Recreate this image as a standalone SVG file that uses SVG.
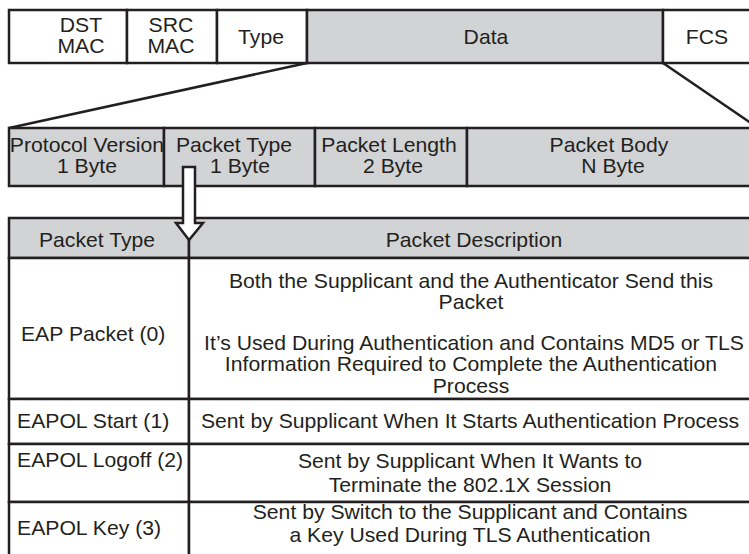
<svg xmlns="http://www.w3.org/2000/svg" width="749" height="554" viewBox="0 0 749 554">
<style>
.b{stroke:#231f20;stroke-width:2.5;}
.w{fill:#fff;}
.g{fill:#d1d3d4;}
text{font-family:"Liberation Sans",Arial,sans-serif;font-size:20px;fill:#231f20;transform-box:fill-box;transform-origin:center;transform:scaleX(1.06);}
.c{text-anchor:middle;}
.l{transform-origin:0% 50%;}
</style>
<rect width="749" height="554" fill="#fff"/>
<g id="frame">
<rect class="b w" x="9" y="10" width="118" height="53"/>
<rect class="b w" x="127" y="10" width="90" height="53"/>
<rect class="b w" x="217" y="10" width="90" height="53"/>
<rect class="b g" x="307" y="10" width="356" height="53"/>
<rect class="b w" x="663" y="10" width="90" height="53"/>
<text class="c" x="81" y="32">DST</text><text class="c" x="81" y="53">MAC</text>
<text class="c" x="171" y="32">SRC</text><text class="c" x="171" y="53">MAC</text>
<text class="c" x="261" y="44">Type</text>
<text class="c" x="486" y="44">Data</text>
<text class="c" x="707" y="44">FCS</text>
</g>
<g id="connectors">
<line class="b" x1="307" y1="63" x2="9" y2="128"/>
<line class="b" x1="663" y1="63" x2="758" y2="128"/>
</g>
<g id="eapol">
<rect class="b g" x="9" y="128" width="155" height="58"/>
<rect class="b g" x="164" y="128" width="151" height="58"/>
<rect class="b g" x="315" y="128" width="152" height="58"/>
<rect class="b g" x="467" y="128" width="290" height="58"/>
<text class="c" x="87" y="152">Protocol Version</text><text class="c" x="87" y="173">1 Byte</text>
<text class="c" x="234" y="152">Packet Type</text><text class="c" x="240" y="173">1 Byte</text>
<text class="c" x="389" y="152">Packet Length</text><text class="c" x="393" y="173">2 Byte</text>
<text class="c" x="609" y="152">Packet Body</text><text class="c" x="613" y="173">N Byte</text>
</g>
<g id="table">
<rect class="b g" x="9" y="218" width="180" height="40"/>
<rect class="b g" x="189" y="218" width="568" height="40"/>
<text class="c" x="97" y="247">Packet Type</text>
<text class="c" x="474" y="247">Packet Description</text>
<rect class="b w" x="9" y="258" width="180" height="141"/>
<rect class="b w" x="189" y="258" width="568" height="141"/>
<text class="l" x="21" y="341">EAP Packet (0)</text>
<text class="c" x="471" y="288">Both the Supplicant and the Authenticator Send this</text>
<text class="c" x="471" y="309">Packet</text>
<text class="c" x="474" y="350">It’s Used During Authentication and Contains MD5 or TLS</text>
<text class="c" x="471" y="371">Information Required to Complete the Authentication</text>
<text class="c" x="471" y="393">Process</text>
<rect class="b w" x="9" y="399" width="180" height="45"/>
<rect class="b w" x="189" y="399" width="568" height="45"/>
<text class="l" x="17" y="428">EAPOL Start (1)</text>
<text class="c" x="470" y="428">Sent by Supplicant When It Starts Authentication Process</text>
<rect class="b w" x="9" y="444" width="180" height="58"/>
<rect class="b w" x="189" y="444" width="568" height="58"/>
<text class="l" x="17" y="467">EAPOL Logoff (2)</text>
<text class="c" x="470" y="468">Sent by Supplicant When It Wants to</text>
<text class="c" x="470" y="492">Terminate the 802.1X Session</text>
<rect class="b w" x="9" y="502" width="180" height="70"/>
<rect class="b w" x="189" y="502" width="568" height="70"/>
<text class="l" x="17" y="535">EAPOL Key (3)</text>
<text class="c" x="470" y="519">Sent by Switch to the Supplicant and Contains</text>
<text class="c" x="470" y="542">a Key Used During TLS Authentication</text>
</g>
<g id="arrow">
<polygon class="b w" stroke-width="2" points="183,167 195,167 195,223 203,223 189,240 176,223 183,223"/>
</g>
</svg>
